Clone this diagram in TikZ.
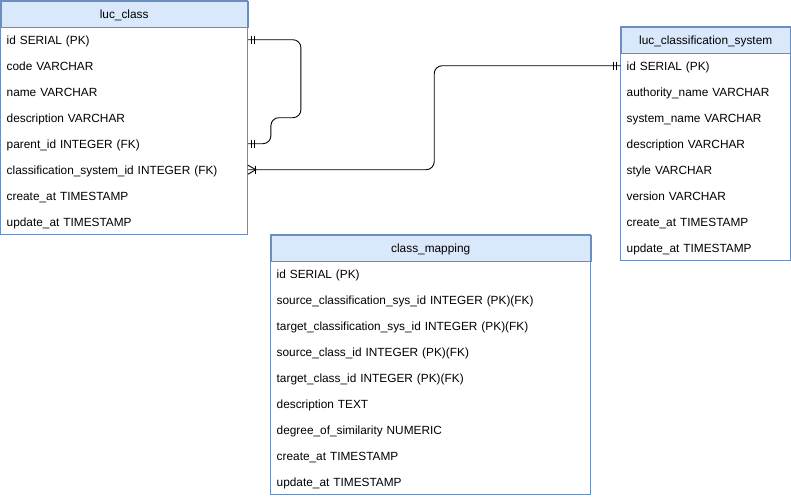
\documentclass[tikz,border=0pt]{standalone}
\usepackage{fontspec}
\setmainfont{Liberation Sans}
\usetikzlibrary{calc}

\definecolor{tblborder}{HTML}{6C8EBF}
\definecolor{tblhead}{HTML}{DAE8FC}

\tikzset{
  hdr/.style={draw=tblborder, fill=tblhead, minimum height=26pt, inner sep=0pt, anchor=north west,
    text height=8.8pt, text depth=0pt},
  row/.style={minimum height=26pt, inner xsep=6pt, inner ysep=0pt, anchor=north west, align=left,
    text height=8.8pt, text depth=0pt},
  rel/.style={line width=0.9pt, rounded corners=8pt},
}

\begin{document}
\begin{tikzpicture}[x=1pt, y=-1pt, font=\fontsize{11.85}{14}\selectfont]
\useasboundingbox (0,0) rectangle (791,498);

% luc_class
\node[hdr, minimum width=247pt] (lc) at (0.5,0.5) {luc\_class};
\foreach \t [count=\i] in {id SERIAL (PK), code VARCHAR, name VARCHAR, description VARCHAR,
  parent\_id INTEGER (FK), classification\_system\_id INTEGER (FK), create\_at TIMESTAMP, update\_at TIMESTAMP}
  \node[row, text width=235pt] (lc-\i) at (0.5,{0.5+26*\i}) {\t};
\draw[tblborder, line width=0.9pt] (lc.north west) rectangle (lc-8.south east);

% luc_classification_system
\node[hdr, minimum width=170pt] (lcs) at (620.5,26.5) {luc\_classification\_system};
\foreach \t [count=\i] in {id SERIAL (PK), authority\_name VARCHAR, system\_name VARCHAR, description VARCHAR,
  style VARCHAR, version VARCHAR, create\_at TIMESTAMP, update\_at TIMESTAMP}
  \node[row, text width=158pt] (lcs-\i) at (620.5,{26.5+26*\i}) {\t};
\draw[tblborder, line width=0.9pt] (lcs.north west) rectangle (lcs-8.south east);

% class_mapping
\node[hdr, minimum width=320pt] (cm) at (270.5,234.5) {class\_mapping};
\foreach \t [count=\i] in {id SERIAL (PK), source\_classification\_sys\_id INTEGER (PK)(FK),
  target\_classification\_sys\_id INTEGER (PK)(FK), source\_class\_id INTEGER (PK)(FK),
  target\_class\_id INTEGER (PK)(FK), description TEXT, degree\_of\_similarity NUMERIC,
  create\_at TIMESTAMP, update\_at TIMESTAMP}
  \node[row, text width=308pt] (cm-\i) at (270.5,{234.5+26*\i}) {\t};
\draw[tblborder, line width=0.9pt] (cm.north west) rectangle (cm-9.south east);

% self reference parent_id -> id
\draw[rel] (lc-1.east) -- ++(53,0) |- ($(lc-5.east)+(23,-26)$) -- ++(0,26) -- (lc-5.east);
\foreach \n in {lc-1,lc-5} {
  \draw[line width=0.9pt] ($(\n.east)+(3.5,-4)$) -- ++(0,8);
  \draw[line width=0.9pt] ($(\n.east)+(6.5,-4)$) -- ++(0,8);
}

% classification_system_id -> luc_classification_system.id
\draw[rel] (lc-6.east) -| ($(lc-6.east)!0.5!(lcs-1.west)$) |- (lcs-1.west);
\draw[line width=0.9pt] ($(lc-6.east)+(0,-4.5)$) -- ++(8,4.5) -- ++(-8,4.5);
\draw[line width=0.9pt] ($(lc-6.east)+(7.5,-4)$) -- ++(0,8);
\draw[line width=0.9pt] ($(lcs-1.west)+(-4,-4)$) -- ++(0,8);
\draw[line width=0.9pt] ($(lcs-1.west)+(-7,-4)$) -- ++(0,8);
\end{tikzpicture}
\end{document}
